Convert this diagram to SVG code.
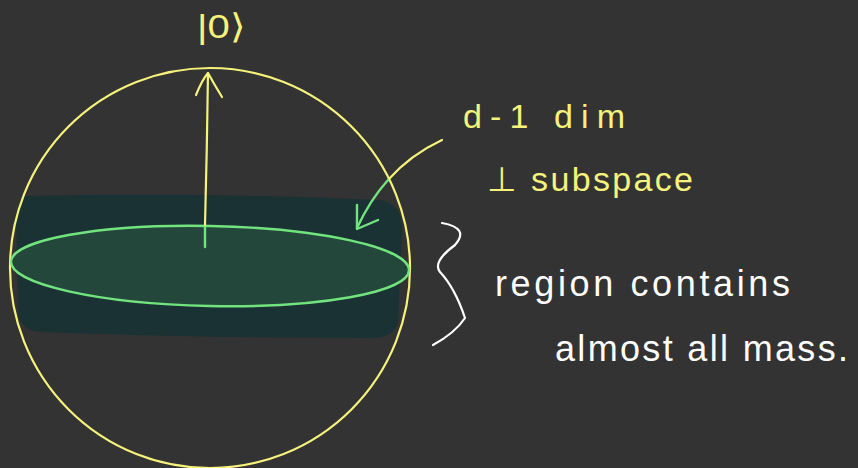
<svg xmlns="http://www.w3.org/2000/svg" width="858" height="468" viewBox="0 0 858 468">
<style>
.y{fill:none;stroke:#f6f27c;stroke-width:2.2;stroke-linecap:round;stroke-linejoin:round}
.g{fill:none;stroke:#72e47e;stroke-width:2.4;stroke-linecap:round;stroke-linejoin:round}
.w{fill:none;stroke:#ffffff;stroke-width:2.2;stroke-linecap:round;stroke-linejoin:round}
.ty{fill:#f6f27c;font-family:"Liberation Sans",sans-serif;font-size:34px}
.tw{fill:#ffffff;font-family:"Liberation Sans",sans-serif;font-size:36px}
</style>
<rect width="858" height="468" fill="#333333"/>
<g id="band">
<path d="M28,196 Q200,192 380,200 Q402,204 402,228 L398,322 Q395,338 370,338 Q200,338 40,332 Q20,330 18,312 L16,218 Q18,197 28,196 Z" fill="#1a3233"/>
</g>
<g id="sphere">
<circle cx="210" cy="268" r="200" class="y"/>
</g>
<g id="subspace">
<ellipse cx="210" cy="266" rx="199" ry="40" transform="rotate(1.2 210 266)" class="g" style="fill:#24473c"/>
</g>
<g id="connectors">
<path d="M205,247 L205,225" class="g"/>
<path d="M205,225 Q207,150 208,73" class="y"/>
<path d="M196,95 Q202,80 208,73 Q214,84 222,97" class="y"/>
<path d="M442,140 Q410,155 388,180" class="y"/>
<path d="M388,180 Q370,200 357,228" class="g"/>
<path d="M357,205 L357,229 L378,220" class="g"/>
<path d="M442,223 Q470,228 455,245 Q432,262 440,272 Q455,288 465,318 Q455,333 433,345" class="w"/>
</g>
<g id="labels">
<text x="197" y="38" class="ty" textLength="48" lengthAdjust="spacingAndGlyphs">|0⟩</text>
<text x="463" y="128" class="ty" textLength="162" lengthAdjust="spacing">d-1 dim</text>
<text x="487" y="191" class="ty" textLength="206" lengthAdjust="spacing">⊥ subspace</text>
<text x="495" y="296" class="tw" textLength="295" lengthAdjust="spacing">region contains</text>
<text x="555" y="361" class="tw" textLength="293" lengthAdjust="spacing">almost all mass.</text>
</g>
</svg>
